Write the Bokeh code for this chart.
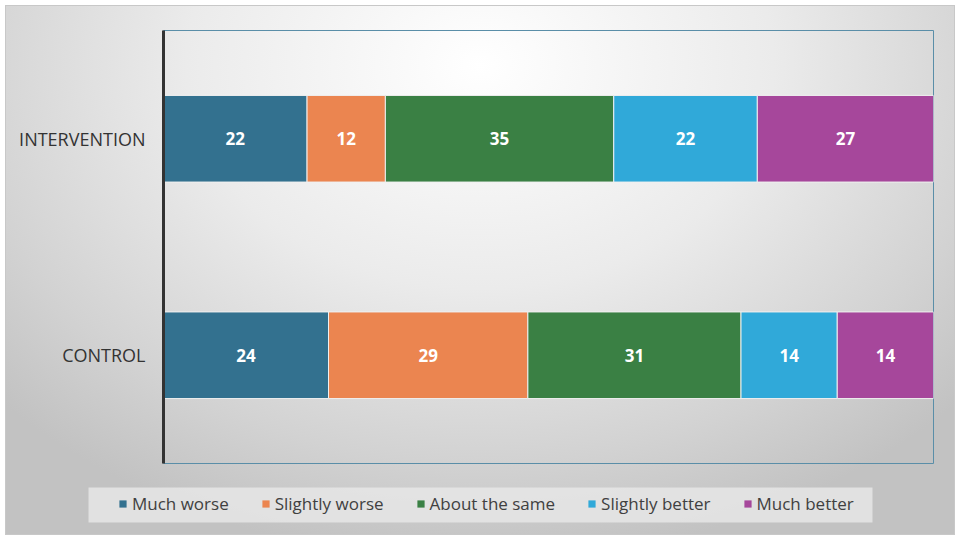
from bokeh.plotting import figure
from bokeh.models import Range1d, FactorRange, ColumnDataSource, Legend, LegendItem, BoxAnnotation
from bokeh.layouts import column
from bokeh.core.properties import value
from bokeh.embed import file_html
from bokeh.resources import INLINE

groups = ["CONTROL", "INTERVENTION"]
categories = ["Much worse", "Slightly worse", "About the same", "Slightly better", "Much better"]
much_worse = [24, 22]
slightly_worse = [29, 12]
about_same = [31, 35]
slightly_better = [14, 22]
much_better = [14, 27]
colors = ["#33718f", "#eb8550", "#3a8044", "#30a9d9", "#a6479b"]

series = [much_worse, slightly_worse, about_same, slightly_better, much_better]
keys = ["s0", "s1", "s2", "s3", "s4"]
totals = [sum(s[i] for s in series) for i in range(len(groups))]

data = {"group": groups}
for k, s in zip(keys, series):
    data[k] = [v / t for v, t in zip(s, totals)]
source = ColumnDataSource(data)

FONT = "Open Sans"

# ---- main chart ----
p = figure(width=960, height=477, y_range=FactorRange(*groups, range_padding=0),
           x_range=Range1d(0, 1), output_backend="svg", toolbar_location=None,
           min_border_left=163, min_border_right=27, min_border_top=30, min_border_bottom=14)
p.frame_align = False
p.border_fill_alpha = 0
p.background_fill_alpha = 0
p.outline_line_color = "#5a8ea8"
p.outline_line_width = 1

p.hbar_stack(keys, y="group", height=0.4, color=colors, source=source,
             line_color="#f0f0f0", line_width=1)

lx, ly, lt = [], [], []
for gi, g in enumerate(groups):
    cum = 0
    for s in series:
        frac = s[gi] / totals[gi]
        lx.append(cum + frac / 2)
        ly.append(g)
        lt.append(str(s[gi]))
        cum += frac
p.text(x=lx, y=ly, text=lt, text_color="white", text_font=value(FONT), text_font_style="bold",
       text_font_size="17px", text_align="center", text_baseline="middle")

p.xaxis.visible = False
p.xgrid.visible = False
p.ygrid.visible = False
p.yaxis.axis_line_color = "#333333"
p.yaxis.axis_line_width = 3
p.yaxis.major_tick_line_color = None
p.yaxis.minor_tick_line_color = None
p.yaxis.major_label_text_font = FONT
p.yaxis.major_label_text_font_size = "18px"
p.yaxis.major_label_text_color = "#333333"
p.yaxis.major_label_standoff = 12

# ---- legend strip ----
q = figure(width=960, height=63, x_range=Range1d(0, 960), y_range=Range1d(0, 63),
           output_backend="svg", toolbar_location=None,
           min_border_left=0, min_border_right=0, min_border_top=0, min_border_bottom=0)
q.frame_align = False
q.border_fill_alpha = 0
q.background_fill_alpha = 0
q.outline_line_color = None
q.axis.visible = False
q.grid.visible = False
q.add_layout(BoxAnnotation(left=88, right=872, bottom=18, top=53, fill_color="#e6e6e6",
                           fill_alpha=0.85, line_color=None, level="underlay"))
dummy = [q.quad(left=[-20], right=[-10], bottom=[-20], top=[-10], color=c, line_color=None)
         for c in colors]
legend = Legend(items=[LegendItem(label=c, renderers=[r]) for c, r in zip(categories, dummy)],
                orientation="horizontal", location=(118, 25))
legend.background_fill_alpha = 0
legend.border_line_color = None
legend.label_text_font = FONT
legend.label_text_font_size = "17px"
legend.label_text_color = "#404040"
legend.glyph_width = 9
legend.glyph_height = 9
legend.label_standoff = 5
legend.spacing = 32
legend.padding = 0
legend.margin = 0
q.add_layout(legend, "center")

layout = column(p, q, spacing=0)
layout.styles = {
    "background": "radial-gradient(ellipse 68% 92% at 50% 12%, #ffffff 0%, #ebebeb 45%, #d2d2d2 80%, #c2c2c2 100%)",
    "box-shadow": "inset 0 0 0 5px #ffffff, inset 0 0 0 6px #c8c8c8",
}

open("out.html", "w").write(file_html(layout, INLINE))
